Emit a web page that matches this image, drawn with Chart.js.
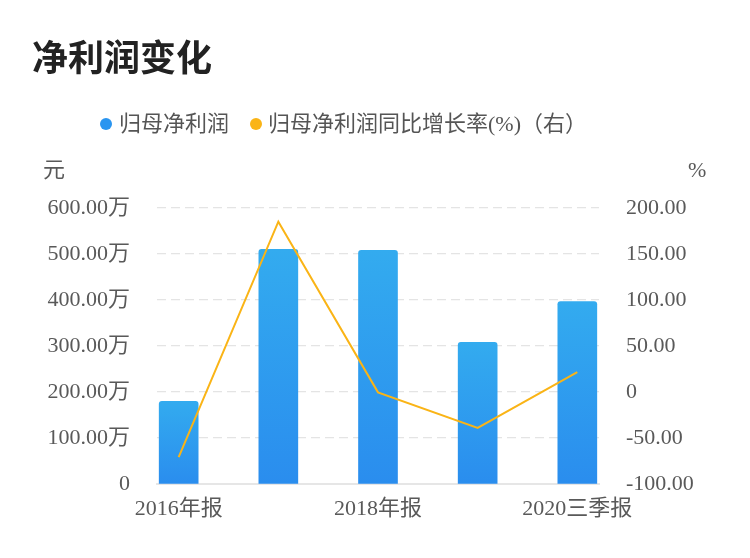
<!DOCTYPE html>
<html>
<head>
<meta charset="utf-8">
<script src="https://cdn.jsdelivr.net/npm/chart.js@4/dist/chart.umd.min.js"></script>
<style>
  html, body { margin: 0; padding: 0; background: #fff; }
  #wrap { position: relative; width: 750px; height: 558px; overflow: hidden; font-family: "Liberation Serif", "Noto Sans CJK SC", serif; }
  #c { position: absolute; left: 0; top: 0; }
  .t { position: absolute; white-space: nowrap; }
  #title { left: 32px; top: 37px; font: bold 36px/36px "Noto Sans CJK SC", sans-serif; color: #222; }
  .lg { font-size: 22px; line-height: 22px; color: #555; top: 113px; }
  .dot { position: absolute; width: 12px; height: 12px; border-radius: 50%; top: 118px; }
  .ax { font-size: 22px; line-height: 22px; color: #595959; top: 159px; }
</style>
</head>
<body>
<div id="wrap">
  <canvas id="c" width="750" height="558"></canvas>
  <div id="title" class="t">净利润变化</div>
  <div class="dot" style="left:100px;background:#2a95f0"></div>
  <div class="t lg" style="left:119px">归母净利润</div>
  <div class="dot" style="left:250px;background:#fab416"></div>
  <div class="t lg" style="left:268px">归母净利润同比增长率(%)（右）</div>
  <div class="t ax" style="left:43px">元</div>
  <div class="t ax" style="left:688px">%</div>
</div>
<script>
const categories = ['2016年报', '2017年报', '2018年报', '2019年报', '2020三季报'];
const netProfit = [179.6, 510.0, 507.8, 307.8, 396.3];   // 万元
const growthRate = [-70.7, 185.1, -0.4, -39.1, 21.7];      // %
const leftTicks = [0, 100, 200, 300, 400, 500, 600];
const rightTicks = [-100, -50, 0, 50, 100, 150, 200];

const FONT = '"Liberation Serif", "Noto Sans CJK SC", serif';
const TICK_COLOR = '#595959';

new Chart(document.getElementById('c'), {
  type: 'bar',
  data: {
    datasets: [
      {
        type: 'line',
        label: '归母净利润同比增长率(%)（右）',
        data: growthRate.map((v, i) => ({ x: i, y: v })),
        yAxisID: 'y1',
        borderColor: '#fab416',
        borderWidth: 2,
        pointRadius: 0,
        tension: 0,
        fill: false,
        order: 0
      },
      {
        type: 'bar',
        label: '归母净利润',
        data: netProfit.map((v, i) => ({ x: i, y: v })),
        yAxisID: 'y',
        barThickness: 39,
        borderRadius: { topLeft: 3, topRight: 3, bottomLeft: 0, bottomRight: 0 },
        borderSkipped: 'start',
        order: 1,
        backgroundColor: (c) => {
          const chart = c.chart;
          if (!chart.chartArea || c.type !== 'data' || !c.parsed) return '#2e9bef';
          const ys = chart.scales.y;
          const top = ys.getPixelForValue(c.parsed.y);
          const bot = ys.getPixelForValue(0);
          const g = chart.ctx.createLinearGradient(0, top, 0, bot);
          g.addColorStop(0, '#33abef');
          g.addColorStop(1, '#2a8dee');
          return g;
        }
      }
    ]
  },
  options: {
    responsive: false,
    animation: false,
    layout: { padding: { top: 208, left: 0, right: 0, bottom: 0 } },
    plugins: { legend: { display: false }, title: { display: false }, tooltip: { enabled: false } },
    scales: {
      x: {
        type: 'linear',
        offset: false,
        min: -0.2175,
        max: 4.2175,
        grid: { display: false, offset: false },
        border: { display: true, color: '#e6e6e6', width: 2 },
        afterBuildTicks: (axis) => { axis.ticks = categories.map((_, i) => ({ value: i })); },
        afterFit: (s) => { s.height = 74; },
        ticks: {
          autoSkip: false,
          maxRotation: 0,
          padding: 4,
          color: TICK_COLOR,
          font: { family: FONT, size: 22 },
          callback: (v) => (Number.isInteger(v) && v % 2 === 0) ? categories[v] : ''
        }
      },
      y: {
        position: 'left',
        min: 0,
        max: 600,
        afterBuildTicks: (axis) => { axis.ticks = leftTicks.map(v => ({ value: v })); },
        afterFit: (s) => { s.width = 157; },
        grid: { color: '#e4e4e4', lineWidth: 1.2, drawTicks: false },
        border: { display: false, dash: [9, 5] },
        ticks: {
          padding: 27,
          color: TICK_COLOR,
          font: { family: FONT, size: 22 },
          callback: (v) => v === 0 ? '0' : v.toFixed(2) + '万'
        }
      },
      y1: {
        position: 'right',
        min: -100,
        max: 200,
        afterBuildTicks: (axis) => { axis.ticks = rightTicks.map(v => ({ value: v })); },
        afterFit: (s) => { s.width = 151; },
        grid: { display: false, drawTicks: false },
        border: { display: false },
        ticks: {
          padding: 27,
          color: TICK_COLOR,
          font: { family: FONT, size: 22 },
          callback: (v) => v === 0 ? '0' : v.toFixed(2)
        }
      }
    }
  }
});
</script>
</body>
</html>
